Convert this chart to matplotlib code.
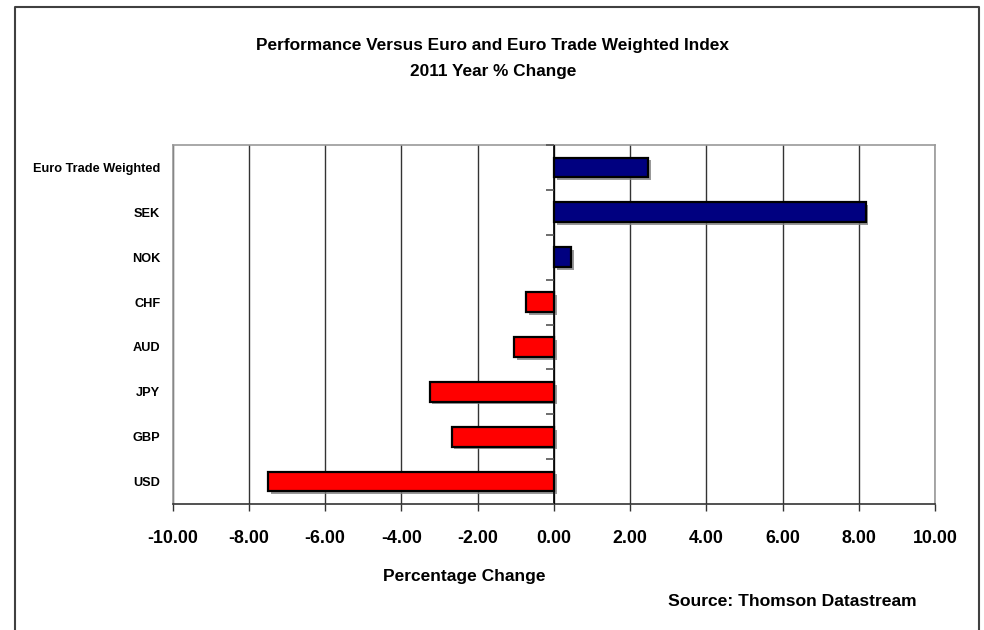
import matplotlib
matplotlib.use('Agg')
import matplotlib.pyplot as plt
import matplotlib.patheffects as pe
from matplotlib.lines import Line2D
import numpy as np

plt.rcParams['font.family'] = ['Liberation Sans', 'DejaVu Sans']
plt.rcParams['font.weight'] = 'bold'

# data (bottom to top)
categories = ['USD', 'GBP', 'JPY', 'AUD', 'CHF', 'NOK', 'SEK', 'Euro Trade Weighted']
pct_change = [-7.49, -2.68, -3.26, -1.04, -0.72, 0.46, 8.18, 2.48]
x_ticks = [-10, -8, -6, -4, -2, 0, 2, 4, 6, 8, 10]

fig = plt.figure(figsize=(9.84, 6.30), dpi=100)
ax = fig.add_axes([0.1755, 0.2, 0.7747, 0.5698])

ypos = np.arange(len(categories))
colors = ['#ff0000' if v < 0 else '#000080' for v in pct_change]
bars = ax.barh(ypos, pct_change, height=0.44, color=colors, edgecolor='black',
               linewidth=1.6, zorder=3)
for b in bars:
    b.set_path_effects([pe.SimplePatchShadow(offset=(2, -2), shadow_rgbFace='#808080', alpha=0.8),
                        pe.Normal()])

ax.set_xlim(-10, 10)
ax.set_ylim(-0.5, len(categories) - 0.5)
ax.set_xticks(x_ticks)
ax.set_xticklabels(['%.2f' % t for t in x_ticks], fontsize=12.8, fontweight='bold')
ax.tick_params(axis='x', length=5, width=1, color='#333333', pad=14)
ax.set_yticks(ypos)
ax.set_yticklabels(categories, fontsize=9.2, fontweight='bold')
ax.tick_params(axis='y', length=0, pad=9)

ax.grid(axis='x', color='#333333', linewidth=1, zorder=0)
ax.set_axisbelow(True)
for s in ['top', 'right', 'left']:
    ax.spines[s].set_color('#999999')
    ax.spines[s].set_linewidth(1.2)
ax.spines['bottom'].set_color('#333333')
ax.spines['bottom'].set_linewidth(1.2)

# category axis at zero with separator ticks
ax.axvline(0, color='black', linewidth=1.2, zorder=4)
bounds = np.arange(len(categories) + 1) - 0.5
ax.scatter(np.zeros(len(bounds)), bounds, marker=0, s=30, color='#555555',
           linewidths=1.2, zorder=4, clip_on=False)

fig.text(0.501, 0.927, 'Performance Versus Euro and Euro Trade Weighted Index',
         ha='center', va='center', fontsize=12.4, fontweight='bold')
fig.text(0.501, 0.886, '2011 Year % Change', ha='center', va='center',
         fontsize=12.4, fontweight='bold')
fig.text(0.472, 1 - 577 / 630, 'Percentage Change', ha='center', va='center',
         fontsize=12.5, fontweight='bold')
fig.text(0.805, 1 - 602 / 630, 'Source: Thomson Datastream', ha='center', va='center',
         fontsize=12.6, fontweight='bold')

# outer chart frame (open at the bottom)
fx0, fx1, fy1 = 15 / 984, 979 / 984, 1 - 7 / 630
fig.add_artist(Line2D([fx0, fx0, fx1, fx1], [0, fy1, fy1, 0], color='#404040',
                      linewidth=1.5, transform=fig.transFigure))

fig.savefig('out.png', dpi=100)
